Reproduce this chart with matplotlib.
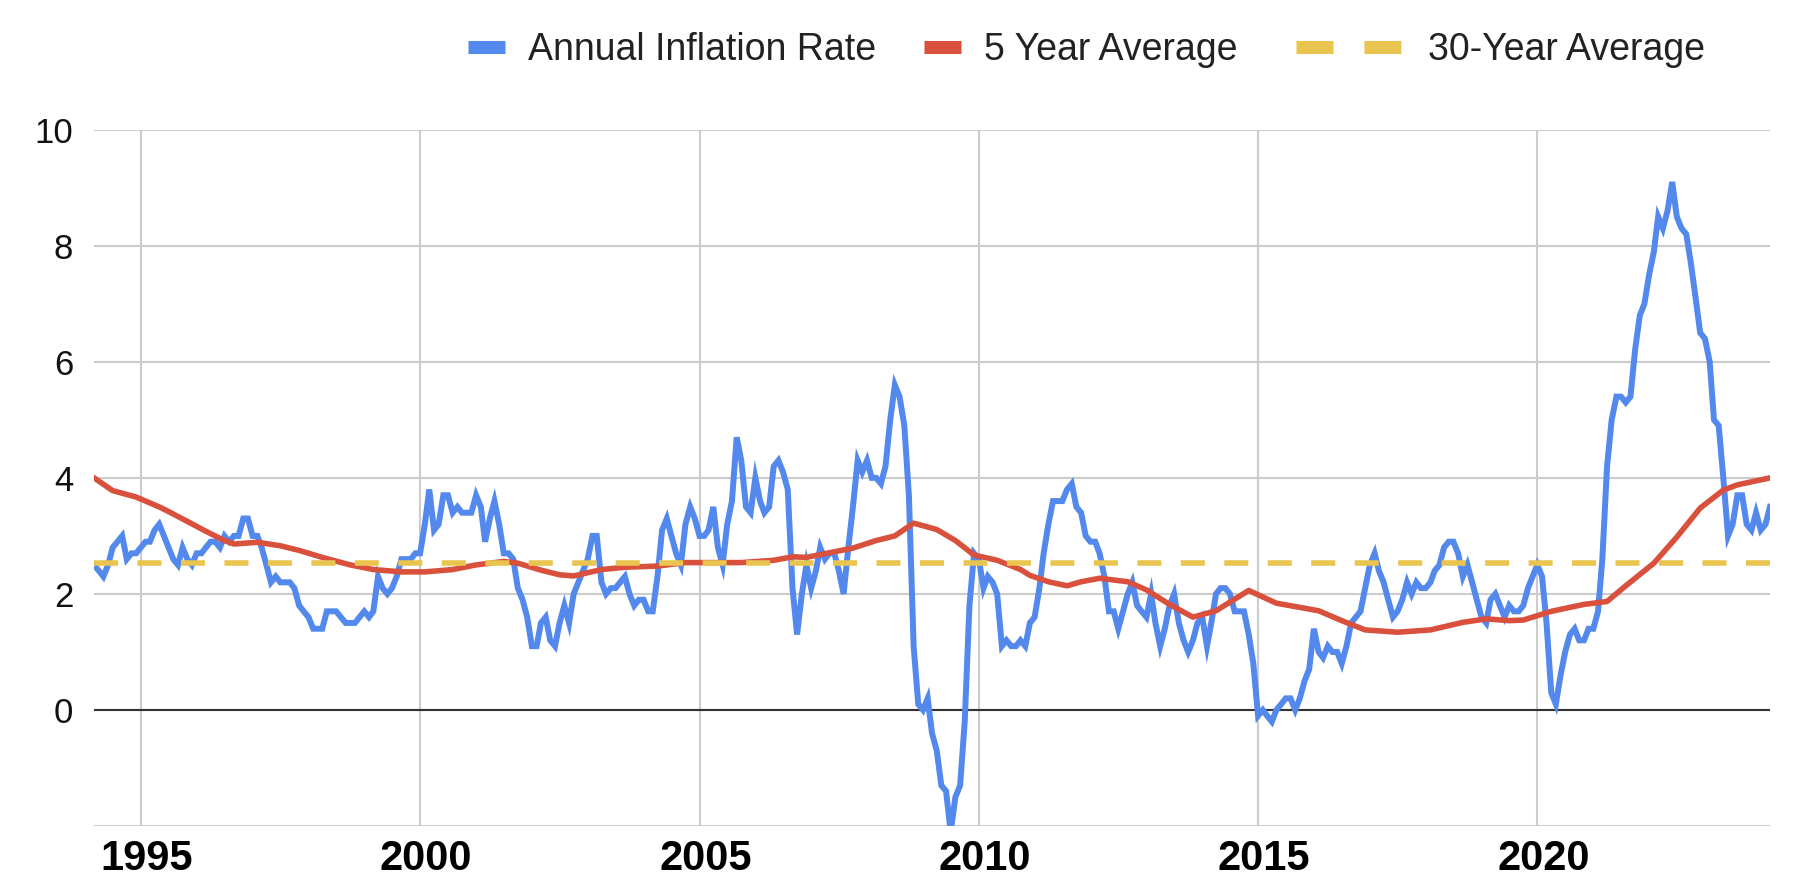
import matplotlib
matplotlib.use('Agg')
import matplotlib.pyplot as plt
import matplotlib.dates as mdates
from matplotlib.lines import Line2D
from matplotlib.transforms import ScaledTranslation
import pandas as pd

plt.rcParams['font.family'] = ['Liberation Sans', 'DejaVu Sans']
plt.rcParams['lines.scale_dashes'] = False

# annual inflation rate, monthly, Mar 1994 .. Mar 2024
rate = [
    2.5, 2.4, 2.3, 2.5, 2.8, 2.9, 3.0, 2.6, 2.7, 2.7,                    # 1994
    2.8, 2.9, 2.9, 3.1, 3.2, 3.0, 2.8, 2.6, 2.5, 2.8, 2.6, 2.5,          # 1995
    2.7, 2.7, 2.8, 2.9, 2.9, 2.8, 3.0, 2.9, 3.0, 3.0, 3.3, 3.3,          # 1996
    3.0, 3.0, 2.8, 2.5, 2.2, 2.3, 2.2, 2.2, 2.2, 2.1, 1.8, 1.7,          # 1997
    1.6, 1.4, 1.4, 1.4, 1.7, 1.7, 1.7, 1.6, 1.5, 1.5, 1.5, 1.6,          # 1998
    1.7, 1.6, 1.7, 2.3, 2.1, 2.0, 2.1, 2.3, 2.6, 2.6, 2.6, 2.7,          # 1999
    2.7, 3.2, 3.8, 3.1, 3.2, 3.7, 3.7, 3.4, 3.5, 3.4, 3.4, 3.4,          # 2000
    3.7, 3.5, 2.9, 3.3, 3.6, 3.2, 2.7, 2.7, 2.6, 2.1, 1.9, 1.6,          # 2001
    1.1, 1.1, 1.5, 1.6, 1.2, 1.1, 1.5, 1.8, 1.5, 2.0, 2.2, 2.4,          # 2002
    2.6, 3.0, 3.0, 2.2, 2.0, 2.1, 2.1, 2.2, 2.3, 2.0, 1.8, 1.9,          # 2003
    1.9, 1.7, 1.7, 2.3, 3.1, 3.3, 3.0, 2.7, 2.5, 3.2, 3.5, 3.3,          # 2004
    3.0, 3.0, 3.1, 3.5, 2.8, 2.5, 3.2, 3.6, 4.7, 4.3, 3.5, 3.4,          # 2005
    4.0, 3.6, 3.4, 3.5, 4.2, 4.3, 4.1, 3.8, 2.1, 1.3, 2.0, 2.5,          # 2006
    2.1, 2.4, 2.8, 2.6, 2.7, 2.7, 2.4, 2.0, 2.8, 3.5, 4.3, 4.1,          # 2007
    4.3, 4.0, 4.0, 3.9, 4.2, 5.0, 5.6, 5.4, 4.9, 3.7, 1.1, 0.1,          # 2008
    0.0, 0.2, -0.4, -0.7, -1.3, -1.4, -2.1, -1.5, -1.3, -0.2, 1.8, 2.7,  # 2009
    2.6, 2.1, 2.3, 2.2, 2.0, 1.1, 1.2, 1.1, 1.1, 1.2, 1.1, 1.5,          # 2010
    1.6, 2.1, 2.7, 3.2, 3.6, 3.6, 3.6, 3.8, 3.9, 3.5, 3.4, 3.0,          # 2011
    2.9, 2.9, 2.7, 2.3, 1.7, 1.7, 1.4, 1.7, 2.0, 2.2, 1.8, 1.7,          # 2012
    1.6, 2.0, 1.5, 1.1, 1.4, 1.8, 2.0, 1.5, 1.2, 1.0, 1.2, 1.5,          # 2013
    1.6, 1.1, 1.5, 2.0, 2.1, 2.1, 2.0, 1.7, 1.7, 1.7, 1.3, 0.8,          # 2014
    -0.1, 0.0, -0.1, -0.2, 0.0, 0.1, 0.2, 0.2, 0.0, 0.2, 0.5, 0.7,       # 2015
    1.4, 1.0, 0.9, 1.1, 1.0, 1.0, 0.8, 1.1, 1.5, 1.6, 1.7, 2.1,          # 2016
    2.5, 2.7, 2.4, 2.2, 1.9, 1.6, 1.7, 1.9, 2.2, 2.0, 2.2, 2.1,          # 2017
    2.1, 2.2, 2.4, 2.5, 2.8, 2.9, 2.9, 2.7, 2.3, 2.5, 2.2, 1.9,          # 2018
    1.6, 1.5, 1.9, 2.0, 1.8, 1.6, 1.8, 1.7, 1.7, 1.8, 2.1, 2.3,          # 2019
    2.5, 2.3, 1.5, 0.3, 0.1, 0.6, 1.0, 1.3, 1.4, 1.2, 1.2, 1.4,          # 2020
    1.4, 1.7, 2.6, 4.2, 5.0, 5.4, 5.4, 5.3, 5.4, 6.2, 6.8, 7.0,          # 2021
    7.5, 7.9, 8.5, 8.3, 8.6, 9.1, 8.5, 8.3, 8.2, 7.7, 7.1, 6.5,          # 2022
    6.4, 6.0, 5.0, 4.9, 4.0, 3.0, 3.2, 3.7, 3.7, 3.2, 3.1, 3.4,          # 2023
    3.1, 3.2, 3.5,                                                        # 2024
]
rate_dates = pd.date_range('1994-03-01', periods=len(rate), freq='MS')

# 5 year average
avg5_months = ['1994-03', '1994-07', '1994-12', '1995-05', '1995-07', '1995-11',
               '1996-03', '1996-07', '1996-09', '1997-02', '1997-07', '1997-11',
               '1998-04', '1998-10', '1999-03', '1999-09', '2000-02', '2000-08',
               '2001-01', '2001-07', '2001-10', '2002-03', '2002-07', '2002-10',
               '2003-04', '2003-09', '2004-04', '2004-10', '2005-04', '2005-10',
               '2006-05', '2006-09', '2006-12', '2007-05', '2007-10', '2008-03',
               '2008-07', '2008-11', '2009-04', '2009-08', '2009-12', '2010-05',
               '2010-10', '2010-12', '2011-04', '2011-08', '2011-11', '2012-03',
               '2012-09', '2013-01', '2013-06', '2013-11', '2014-04', '2014-11',
               '2015-05', '2016-02', '2016-07', '2016-12', '2017-07', '2018-02',
               '2018-09', '2019-02', '2019-07', '2019-10', '2020-04', '2020-11',
               '2021-04', '2021-08', '2022-02', '2022-07', '2022-12', '2023-05',
               '2023-08', '2024-03']
avg5 = [4.00, 3.78, 3.67, 3.50, 3.42, 3.25,
        3.08, 2.92, 2.86, 2.89, 2.83, 2.75,
        2.63, 2.50, 2.42, 2.38, 2.38, 2.42,
        2.50, 2.56, 2.53, 2.41, 2.33, 2.31,
        2.42, 2.46, 2.48, 2.54, 2.54, 2.54,
        2.58, 2.64, 2.63, 2.71, 2.79, 2.92,
        3.00, 3.22, 3.11, 2.92, 2.67, 2.58,
        2.42, 2.32, 2.21, 2.14, 2.21, 2.27,
        2.21, 2.07, 1.82, 1.60, 1.71, 2.06,
        1.84, 1.71, 1.54, 1.38, 1.34, 1.38,
        1.51, 1.57, 1.54, 1.55, 1.70, 1.82,
        1.87, 2.14, 2.53, 2.98, 3.48, 3.79,
        3.88, 4.00]
avg5_dates = pd.to_datetime(avg5_months)

avg30 = 2.53

blue = '#5388ec'
red = '#d9503d'
yellow = '#e9c44f'

fig = plt.figure(figsize=(17.98, 8.96), dpi=100)
ax = fig.add_axes([0.0523, 0.0781, 0.9321, 0.7771])

ax.plot(rate_dates, rate, color=blue, lw=4.3, zorder=3, solid_joinstyle='miter')
ax.plot(avg5_dates, avg5, color=red, lw=4.0, zorder=4)
ax.plot([rate_dates[0], rate_dates[-1]], [avg30, avg30], color=yellow, lw=4.0,
        ls=(0, (17.3, 14.0)), dash_capstyle='butt', zorder=5)
ax.axhline(0, color='#333333', lw=1.5, zorder=2)

ax.set_xlim(rate_dates[0], rate_dates[-1])
ax.set_ylim(-2, 10)
ax.set_yticks([-2, 0, 2, 4, 6, 8, 10])
ax.set_yticklabels(['', '0', '2', '4', '6', '8', '10'])
ax.xaxis.set_major_locator(mdates.YearLocator(5))
ax.xaxis.set_major_formatter(mdates.DateFormatter('%Y'))

ax.grid(True, color='#cccccc', lw=1.5, zorder=1)
ax.set_axisbelow(True)
for s in ax.spines.values():
    s.set_visible(False)

ax.tick_params(axis='y', length=0, pad=15, labelsize=25, labelcolor='#111111')
ax.tick_params(axis='x', length=0, pad=9, labelsize=30, labelcolor='#000000')
for lab in ax.get_xticklabels():
    lab.set_fontweight('bold')
    lab.set_transform(lab.get_transform() + ScaledTranslation(0.06, 0, fig.dpi_scale_trans))

# legend, three pieces so each key can have its own length
keys = [
    (Line2D([], [], color=blue, lw=9.4, solid_capstyle='butt'), 'Annual Inflation Rate', 0.99, 468),
    (Line2D([], [], color=red, lw=9.4, solid_capstyle='butt'), '5 Year Average', 0.99, 924),
    (Line2D([], [], color=yellow, lw=9.4, ls=(0, (26.6, 22.3)), dash_capstyle='butt'),
     '30-Year Average', 2.9, 1296),
]
for h, txt, hl, xpix in keys:
    leg = fig.legend([h], [txt], loc='center left', bbox_to_anchor=(xpix / 1798, 1 - 50 / 896),
                     frameon=False, fontsize=27, handlelength=hl, handletextpad=0.62,
                     borderpad=0, borderaxespad=0)
    for t in leg.get_texts():
        t.set_color('#222222')

fig.savefig('out.png', dpi=100)
